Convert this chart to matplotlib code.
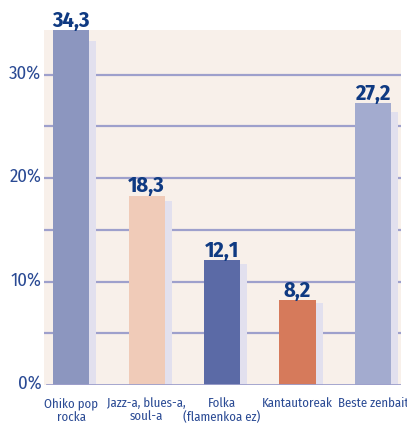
import matplotlib
matplotlib.use("Agg")
import matplotlib.pyplot as plt
import matplotlib.transforms as mtransforms

categories = ["Ohiko pop\nrocka", "Jazz-a, blues-a,\nsoul-a", "Folka\n(flamenkoa ez)",
              "Kantautoreak", "Beste zenbait"]
values = [34.3, 18.3, 12.1, 8.2, 27.2]
value_labels = ["34,3", "18,3", "12,1", "8,2", "27,2"]
bar_colors = ["#8c96bf", "#f0cbb8", "#5b6aa6", "#d67a5b", "#a3abcf"]
tick_values = [0, 10, 20, 30]
tick_labels = ["0%", "10%", "20%", "30%"]
grid_values = [5, 10, 15, 20, 25, 30]

plt.rcParams["font.family"] = ["Fira Sans Condensed", "DejaVu Sans"]

BG = "#f8f0ea"
GRID = "#9ea0cc"
TXT = "#2a4a94"
VAL = "#0f3a82"

fig = plt.figure(figsize=(4.07, 4.27), dpi=100, facecolor="white")
ax = fig.add_axes([44 / 407, 41 / 427, 357 / 407, 355 / 427])
ax.set_facecolor(BG)

x = list(range(len(values)))
w = 0.477
# light "shadow" bars behind each column
ax.bar([i + 0.093 for i in x], [v * 0.97 for v in values], width=w,
       color="#e2e0ee", zorder=2)
ax.bar(x, values, width=w, color=bar_colors, zorder=3)

for g in grid_values:
    ax.axhline(g, color=GRID, lw=1.6, zorder=1)
ax.axhline(0, xmin=0.008, color=GRID, lw=2.0, zorder=4)

for i, (v, lab) in enumerate(zip(values, value_labels)):
    ax.annotate(lab, (i, v), xytext=(0, 3), textcoords="offset points",
                ha="center", va="baseline", fontsize=16, fontweight="bold",
                color=VAL, annotation_clip=False)

ax.set_xlim(-0.358, 4.371)
ax.set_ylim(0, 34.3)
ax.set_yticks(tick_values)
ax.set_yticklabels(tick_labels, fontsize=13.5, color=TXT)
ax.set_xticks(x)
ax.set_xticklabels(categories, fontsize=9.2, color=TXT, linespacing=1.1)
ax.tick_params(axis="x", length=0, pad=8)
ax.tick_params(axis="y", length=0, pad=2)

# labels sit a little above their gridlines
shift = mtransforms.ScaledTranslation(0, 4 / 100, fig.dpi_scale_trans)
for t in ax.get_yticklabels():
    t.set_transform(t.get_transform() + shift)
for s in ax.spines.values():
    s.set_visible(False)

fig.savefig("out.png", dpi=100, facecolor="white")
